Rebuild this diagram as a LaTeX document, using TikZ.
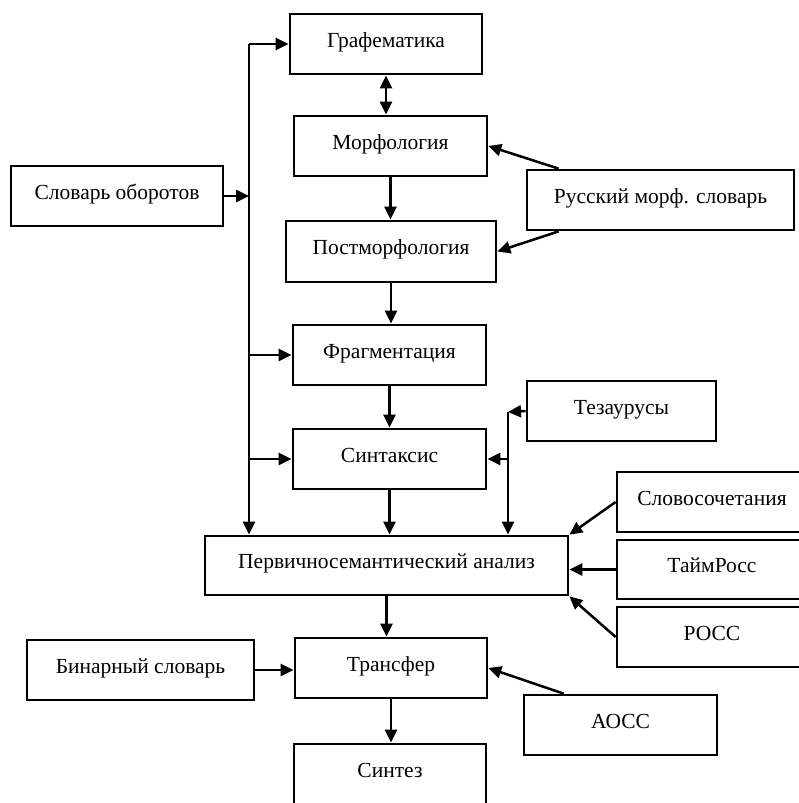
\documentclass[tikz,border=0pt]{standalone}
\usepackage{fontspec}
\setmainfont{Liberation Serif}
\usetikzlibrary{arrows.meta,calc}

\tikzset{
	blok/.style={draw, line width=2.7pt, minimum height=60pt, inner sep=0pt, text height=15pt, text depth=9pt, font=\fontsize{21.5}{25}\selectfont},
	pil/.style={line width=2.5pt, -{Triangle[length=13pt,width=12pt]}},
	dvpil/.style={line width=2.5pt, {Triangle[length=13pt,width=12pt]}-{Triangle[length=13pt,width=12pt]}}
}

\begin{document}
\begin{tikzpicture}[x=1pt, y=-1pt]
	
	\useasboundingbox (0,0) rectangle (799,803);
	\clip (0,0) rectangle (799,803);
	
	\node[blok, minimum width=192pt] (graf) at (386,44) {Графематика};
	\node[blok, minimum width=193pt] (morf) at (390.5,146) {Морфология};
	\node[blok, minimum width=210pt, minimum height=61pt] (postmorf) at (391,251.5) {Постморфология};
	\node[blok, minimum width=212pt] (slovob) at (117,196) {Словарь оборотов};
	\node[blok, minimum width=267pt] (rusmorf) at (660.5,200) {Русский морф. словарь};
	\node[blok, minimum width=193pt] (fragm) at (389.5,355) {Фрагментация};
	\node[blok, minimum width=193pt] (sintaks) at (389.5,459) {Синтаксис};
	\node[blok, minimum width=189pt] (tezaur) at (621.5,411) {Тезаурусы};
	\node[blok, minimum width=363pt, minimum height=59pt] (perv) at (386.5,565.5) {Первичносемантический анализ};
	\node[blok, minimum width=190pt] (slovosoch) at (712,502) {Словосочетания};
	\node[blok, minimum width=190pt, minimum height=59pt] (taimross) at (712,569.5) {ТаймРосс};
	\node[blok, minimum width=190pt] (ross) at (712,637) {РОСС};
	\node[blok, minimum width=192pt] (transfer) at (391,668) {Трансфер};
	\node[blok, minimum width=227pt] (binar) at (140.5,670) {Бинарный словарь};
	\node[blok, minimum width=193pt] (aoss) at (620.5,725) {АОСС};
	\node[blok, minimum width=192pt] (sintez) at (390,774) {Синтез};
	
	
	\coordinate (shina) at (249,44);
	\draw[pil] (shina) -- (graf.west);
	\draw[pil] (shina) -- (shina |- perv.north);
	\draw[pil] (slovob.east) -- (slovob.east -| shina);
	\draw[pil] (shina |- fragm.west) -- (fragm.west);
	\draw[pil] (shina |- sintaks.west) -- (sintaks.west);
	
	
	\draw[dvpil] (graf.south) -- (graf.south |- morf.north);
	\draw[pil] (morf.south) -- (morf.south |- postmorf.north);
	\draw[pil] (postmorf.south) -- (postmorf.south |- fragm.north);
	\draw[pil] (fragm.south) -- (fragm.south |- sintaks.north);
	\draw[pil] (sintaks.south) -- (sintaks.south |- perv.north);
	\draw[pil] (perv.south) -- (perv.south |- transfer.north);
	\draw[pil] (transfer.south) -- (transfer.south |- sintez.north);
	
	
	\draw[pil] ([xshift=33pt]rusmorf.north west) -- (morf.east);
	\draw[pil] ([xshift=33pt]rusmorf.south west) -- (postmorf.east);
	
	
	\coordinate (tez) at (508,412);
	\draw[pil] (tezaur.west) -- (tez);
	\draw[pil] (tez) -- (tez |- perv.north);
	\draw[pil] (tez |- sintaks.east) -- (sintaks.east);
	
	
	\draw[pil] (slovosoch.west) -- (perv.north east);
	\draw[pil] (taimross.west) -- (perv.east |- taimross.west);
	\draw[pil] (ross.west) -- (perv.south east);
	
	
	\draw[pil] (binar.east) -- (binar.east -| transfer.west);
	\draw[pil] ([xshift=41pt]aoss.north west) -- (transfer.east);
	
\end{tikzpicture}
\end{document}
